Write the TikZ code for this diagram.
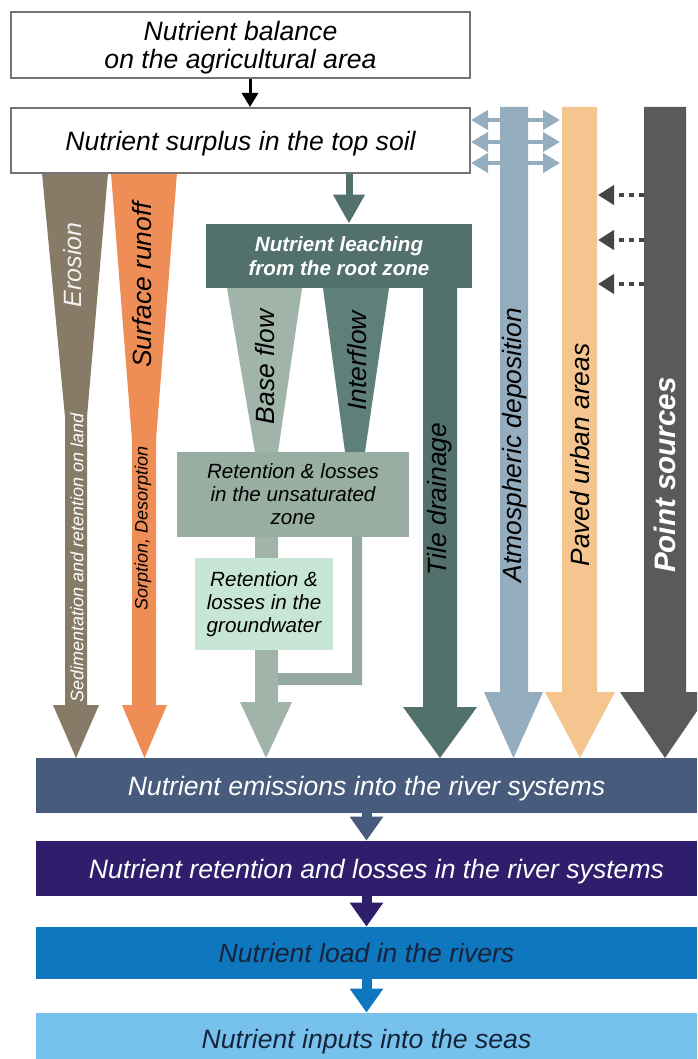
\documentclass[tikz,border=0pt]{standalone}
\usepackage{fontspec}
\setmainfont{Liberation Sans}
\usetikzlibrary{arrows.meta}
\usetikzlibrary{positioning}

\definecolor{erocol}{HTML}{877A66}
\definecolor{runcol}{HTML}{EF8D56}
\definecolor{leachcol}{HTML}{52716D}
\definecolor{basecol}{HTML}{A0B4A9}
\definecolor{unsatcol}{HTML}{99AEA2}
\definecolor{intercol}{HTML}{5F7F7B}
\definecolor{lcol}{HTML}{93A89E}
\definecolor{gwcol}{HTML}{C8E6D6}
\definecolor{atmcol}{HTML}{94ADBF}
\definecolor{pavedcol}{HTML}{F5C590}
\definecolor{pointcol}{HTML}{5A5A5A}
\definecolor{dotcol}{HTML}{454545}
\definecolor{emiscol}{HTML}{475B7D}
\definecolor{retcol}{HTML}{2E1E6B}
\definecolor{loadcol}{HTML}{0F77BD}
\definecolor{inpcol}{HTML}{76C2EC}
\definecolor{darktext}{HTML}{16233A}

\tikzstyle{topbox}=[draw=black!55,line width=1pt,fill=white,inner sep=0pt,align=center,text depth=0pt,minimum width=229.5pt,font=\itshape\fontsize{13.3}{14}\selectfont]
\tikzstyle{riverbox}=[inner sep=0pt,text depth=0pt,minimum width=330.5pt,minimum height=27.5pt,font=\itshape\fontsize{13.3}{14}\selectfont]
\tikzstyle{soilbox}=[inner sep=0pt,align=center,font=\itshape\fontsize{10.3}{11.5}\selectfont]
\tikzstyle{flowlabel}=[rotate=90,inner sep=0pt,font=\itshape\fontsize{13.2}{14}\selectfont]
\tikzstyle{smalllabel}=[rotate=90,inner sep=0pt,font=\itshape\fontsize{9}{10}\selectfont]
\tikzstyle{riverarrow}=[line width=5pt,-{Triangle[width=16pt,length=12pt]}]
\tikzstyle{atmarrow}=[draw=atmcol,line width=2pt,{Triangle[width=9.5pt,length=8.5pt]}-{Triangle[width=9.5pt,length=8.5pt]}]
\tikzstyle{dotarrow}=[draw=dotcol,line width=2pt,dash pattern=on 2.5pt off 2.5pt,-{Triangle[width=9.5pt,length=8pt]}]

\begin{document}
\begin{tikzpicture}[x=0.5pt,y=-0.5pt]
\clip (0,0) rectangle (697,1059);
\fill[white] (0,0) rectangle (697,1059);

    % First we draw the flows out of the top soil
    \fill[erocol] (42,173) -- (108,173) -- (87,417) -- (87,705) -- (99,705) -- (76,758) -- (53,705) -- (65,705) -- (65,417) -- cycle;
    \fill[runcol] (111,173) -- (177,173) -- (156,440) -- (156,705) -- (167,705) -- (144.5,758) -- (122,705) -- (132,705) -- (132,440) -- cycle;
    \fill[basecol] (227,288) -- (302,288) -- (278,452) -- (278,702) -- (292,702) -- (266,758) -- (240,702) -- (255,702) -- (255,452) -- cycle;
    \fill[intercol] (323,288) -- (389,288) -- (365,452) -- (345,452) -- cycle;
    \fill[lcol] (352,530) -- (362,530) -- (362,685) -- (278,685) -- (278,673) -- (352,673) -- cycle;
    \fill[leachcol] (423,280) -- (457,280) -- (457,707) -- (477,707) -- (440,758) -- (403,707) -- (423,707) -- cycle;

    % the bars on the right
    \foreach \l/\r/\hl/\hr/\col in {500/528/484/543/atmcol, 562/597/545/615/pavedcol, 644/686/620/710/pointcol}
        \fill[\col] (\l,107) -- (\r,107) -- (\r,692) -- (\hr,692) -- ({(\hl+\hr)/2},758) -- (\hl,692) -- (\l,692) -- cycle;

    % Then the boxes
    \node[topbox, minimum height=33pt] (bal) at (240.5,45) {Nutrient balance\\on the agricultural area};
    \node[topbox, minimum height=32.5pt] (surp) at (240.5,140.5) {Nutrient surplus in the top soil};
    \node[soilbox, fill=leachcol, text=white, minimum width=133pt, minimum height=32pt, font=\bfseries\itshape\fontsize{10.3}{12}\selectfont] (leach) at (339,256) {Nutrient leaching\\from the root zone};
    \node[soilbox, fill=unsatcol, minimum width=116pt, minimum height=42.5pt] (unsat) at (293,494.5) {Retention \& losses\\in the unsaturated\\zone};
    \node[soilbox, fill=gwcol, minimum width=69pt, minimum height=46pt] (gw) at (264,604) {Retention \&\\losses in the\\groundwater};

    \node[riverbox, fill=emiscol, text=white] (emis) at (366.5,785.5) {Nutrient emissions into the river systems};
    \node[riverbox, fill=retcol, text=white] (ret) at (366.5,868.5) {\hspace{10pt}Nutrient retention and losses in the river systems};
    \node[riverbox, fill=loadcol, text=darktext, minimum height=26pt] (load) at (366.5,953) {Nutrient load in the rivers};
    \node[riverbox, fill=inpcol, text=darktext, minimum height=26pt] (inp) at (366.5,1039) {Nutrient inputs into the seas};

    % labels along the flows
    \node[flowlabel, text=white!90!erocol, font=\itshape\fontsize{12.5}{14}\selectfont] (lero) at (73,265) {Erosion};
    \node[flowlabel] (lrun) at (142,285) {Surface runoff};
    \node[smalllabel, text=white] (lsed) at (77,558) {Sedimentation and retention on land};
    \node[smalllabel] (lsorp) at (143,528) {Sorption, Desorption};
    \node[flowlabel] (lbase) at (265,367) {Base flow};
    \node[flowlabel] (linter) at (357,361) {Interflow};
    \node[flowlabel] (ltile) at (440,499) {Tile drainage};
    \node[flowlabel] (latm) at (515,445) {Atmospheric deposition};
    \node[flowlabel] (lpaved) at (580,455) {Paved urban areas};
    \node[flowlabel, text=white, font=\bfseries\itshape\fontsize{14.8}{16}\selectfont] (lpoint) at (665,475) {Point sources};

    % Connect the boxes
    \draw[line width=1.5pt, -{Triangle[width=8pt,length=7pt]}] ([xshift=4.75pt]bal.south) -- ([xshift=4.75pt]surp.north);
    \coordinate (lin) at ([xshift=5pt]leach.north);
    \draw[draw=leachcol, line width=3.5pt, -{Triangle[width=15pt,length=14.5pt]}] (surp.south -| lin) -- (lin);
    \foreach \a/\b/\c in {emis/ret/emiscol, ret/load/retcol, load/inp/loadcol}
        \draw[riverarrow, draw=\c] (\a.south) -- (\b.north);

    % exchange with the atmosphere and inputs from point sources
    \foreach \y in {120,142,163} {
        \coordinate (d\y) at (560,\y);
        \draw[atmarrow] (surp.east |- d\y) -- (d\y);
    }
    \foreach \y in {195,240,284} {
        \coordinate (ps\y) at (644,\y);
        \coordinate (pv\y) at (598,\y);
        \draw[dotarrow] (ps\y) -- (pv\y);
    }

\end{tikzpicture}
\end{document}
